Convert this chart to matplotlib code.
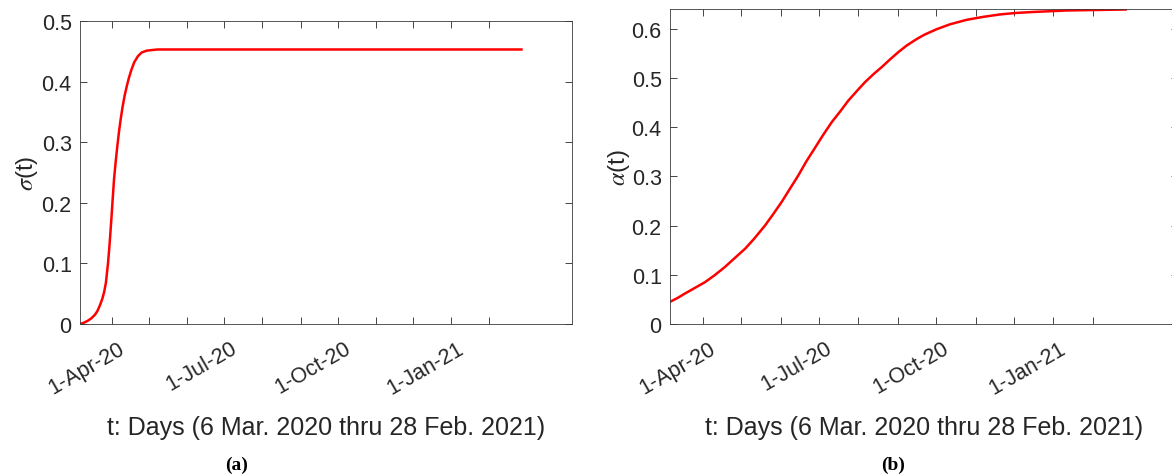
import datetime as dt
import matplotlib
matplotlib.use('Agg')
import matplotlib.pyplot as plt
from matplotlib.transforms import ScaledTranslation

start = dt.datetime(2020, 3, 6)

# sigma(t): days since 6 Mar 2020 and values
sigma_days = [0, 3, 6, 9, 12, 14, 16, 18, 19.5, 21, 22.7, 24, 25.4, 26.5, 27.6,
              29, 30.3, 31.6, 33, 34.5, 36.2, 38, 39.5, 41.6, 44, 47, 50, 54,
              58, 63, 358]
sigma_vals = [0.0, 0.002, 0.005, 0.009, 0.015, 0.021, 0.030, 0.041, 0.052,
              0.068, 0.100, 0.132, 0.172, 0.206, 0.239, 0.269, 0.294, 0.317,
              0.338, 0.358, 0.377, 0.393, 0.405, 0.419, 0.432, 0.442, 0.448,
              0.451, 0.452, 0.453, 0.453]

# alpha(t): values
alpha_days = [0, 6, 11.8, 20, 27.5, 35, 43.2, 50, 59, 66, 74.6, 81, 87.7, 94,
              100.8, 107, 113.9, 120, 127, 134, 140.1, 147, 153.2, 160, 166.3,
              173, 179.4, 186, 193.8, 200, 209.5, 220, 233, 246, 259.3, 272,
              285.5, 311.7, 335, 358]
alpha_vals = [0.045, 0.053, 0.062, 0.074, 0.085, 0.099, 0.116, 0.132, 0.153,
              0.173, 0.200, 0.223, 0.248, 0.274, 0.302, 0.330, 0.358, 0.383,
              0.410, 0.433, 0.454, 0.474, 0.4915, 0.508, 0.522, 0.538, 0.5525,
              0.566, 0.579, 0.588, 0.599, 0.609, 0.618, 0.624, 0.629, 0.632,
              0.634, 0.637, 0.638, 0.639]

tick_dates = [dt.datetime(2020, m, 1) for m in range(4, 13)] + \
             [dt.datetime(2021, 1, 1), dt.datetime(2021, 2, 1)]
tick_labels = ['1-Apr-20', '', '', '1-Jul-20', '', '', '1-Oct-20', '', '',
               '1-Jan-21', '']

xlabel = 't: Days (6 Mar. 2020 thru 28 Feb. 2021)'
dark = '#262626'
plt.rcParams['font.family'] = ['Liberation Sans', 'DejaVu Sans']
plt.rcParams['mathtext.fontset'] = 'stix'

fig = plt.figure(figsize=(11.72, 4.77), dpi=100)
W, H = 1172, 477
ax1 = fig.add_axes([80 / W, (H - 325) / H, 492 / W, 303 / H])
ax2 = fig.add_axes([670 / W, (H - 325) / H, 508 / W, 315 / H])

panels = [
    (ax1, sigma_days, sigma_vals, r'$\sigma$(t)', 0.5, [0, 0.1, 0.2, 0.3, 0.4, 0.5], 27),
    (ax2, alpha_days, alpha_vals, r'$\alpha$(t)', 0.64, [0, 0.1, 0.2, 0.3, 0.4, 0.5, 0.6], 619),
]

shift = ScaledTranslation(6 / 100, -5 / 100, fig.dpi_scale_trans)

for ax, days, vals, ylab, ytop, yt, ylab_x in panels:
    dates = [start + dt.timedelta(days=d) for d in days]
    ax.plot(dates, vals, color='red', lw=1.8)
    ax.set_xlim(start, start + dt.timedelta(days=399))
    ax.set_ylim(0, ytop)
    ax.set_xticks(tick_dates)
    ax.set_xticklabels(tick_labels, rotation=30, ha='right', rotation_mode='anchor')
    ax.set_yticks(yt)
    ax.set_yticklabels(['0'] + ['%.1f' % v for v in yt[1:]])
    ax.tick_params(direction='in', length=5, width=0.6, colors=dark,
                   labelsize=15.5, top=True, right=True, pad=6)
    for lab in ax.get_xticklabels():
        lab.set_transform(lab.get_transform() + shift)
    for s in ax.spines.values():
        s.set_color('#3a3a3a')
        s.set_linewidth(0.6)
    pos = ax.get_position()
    ax.set_ylabel(ylab, fontsize=17.5, color=dark, va='center')
    ax.yaxis.set_label_coords((ylab_x - pos.x0 * W) / (pos.width * W), 0.5)
    ax.set_xlabel(xlabel, fontsize=18, color=dark, va='center')
    ax.xaxis.set_label_coords(0.5, -(428 - 325) / (pos.height * H))

fig.text(237 / W, 1 - 465 / H, '(a)', family='Liberation Serif', weight='bold',
         fontsize=14, ha='center', va='center')
fig.text(893 / W, 1 - 465 / H, '(b)', family='Liberation Serif', weight='bold',
         fontsize=14, ha='center', va='center')

fig.savefig('out.png', dpi=100)
